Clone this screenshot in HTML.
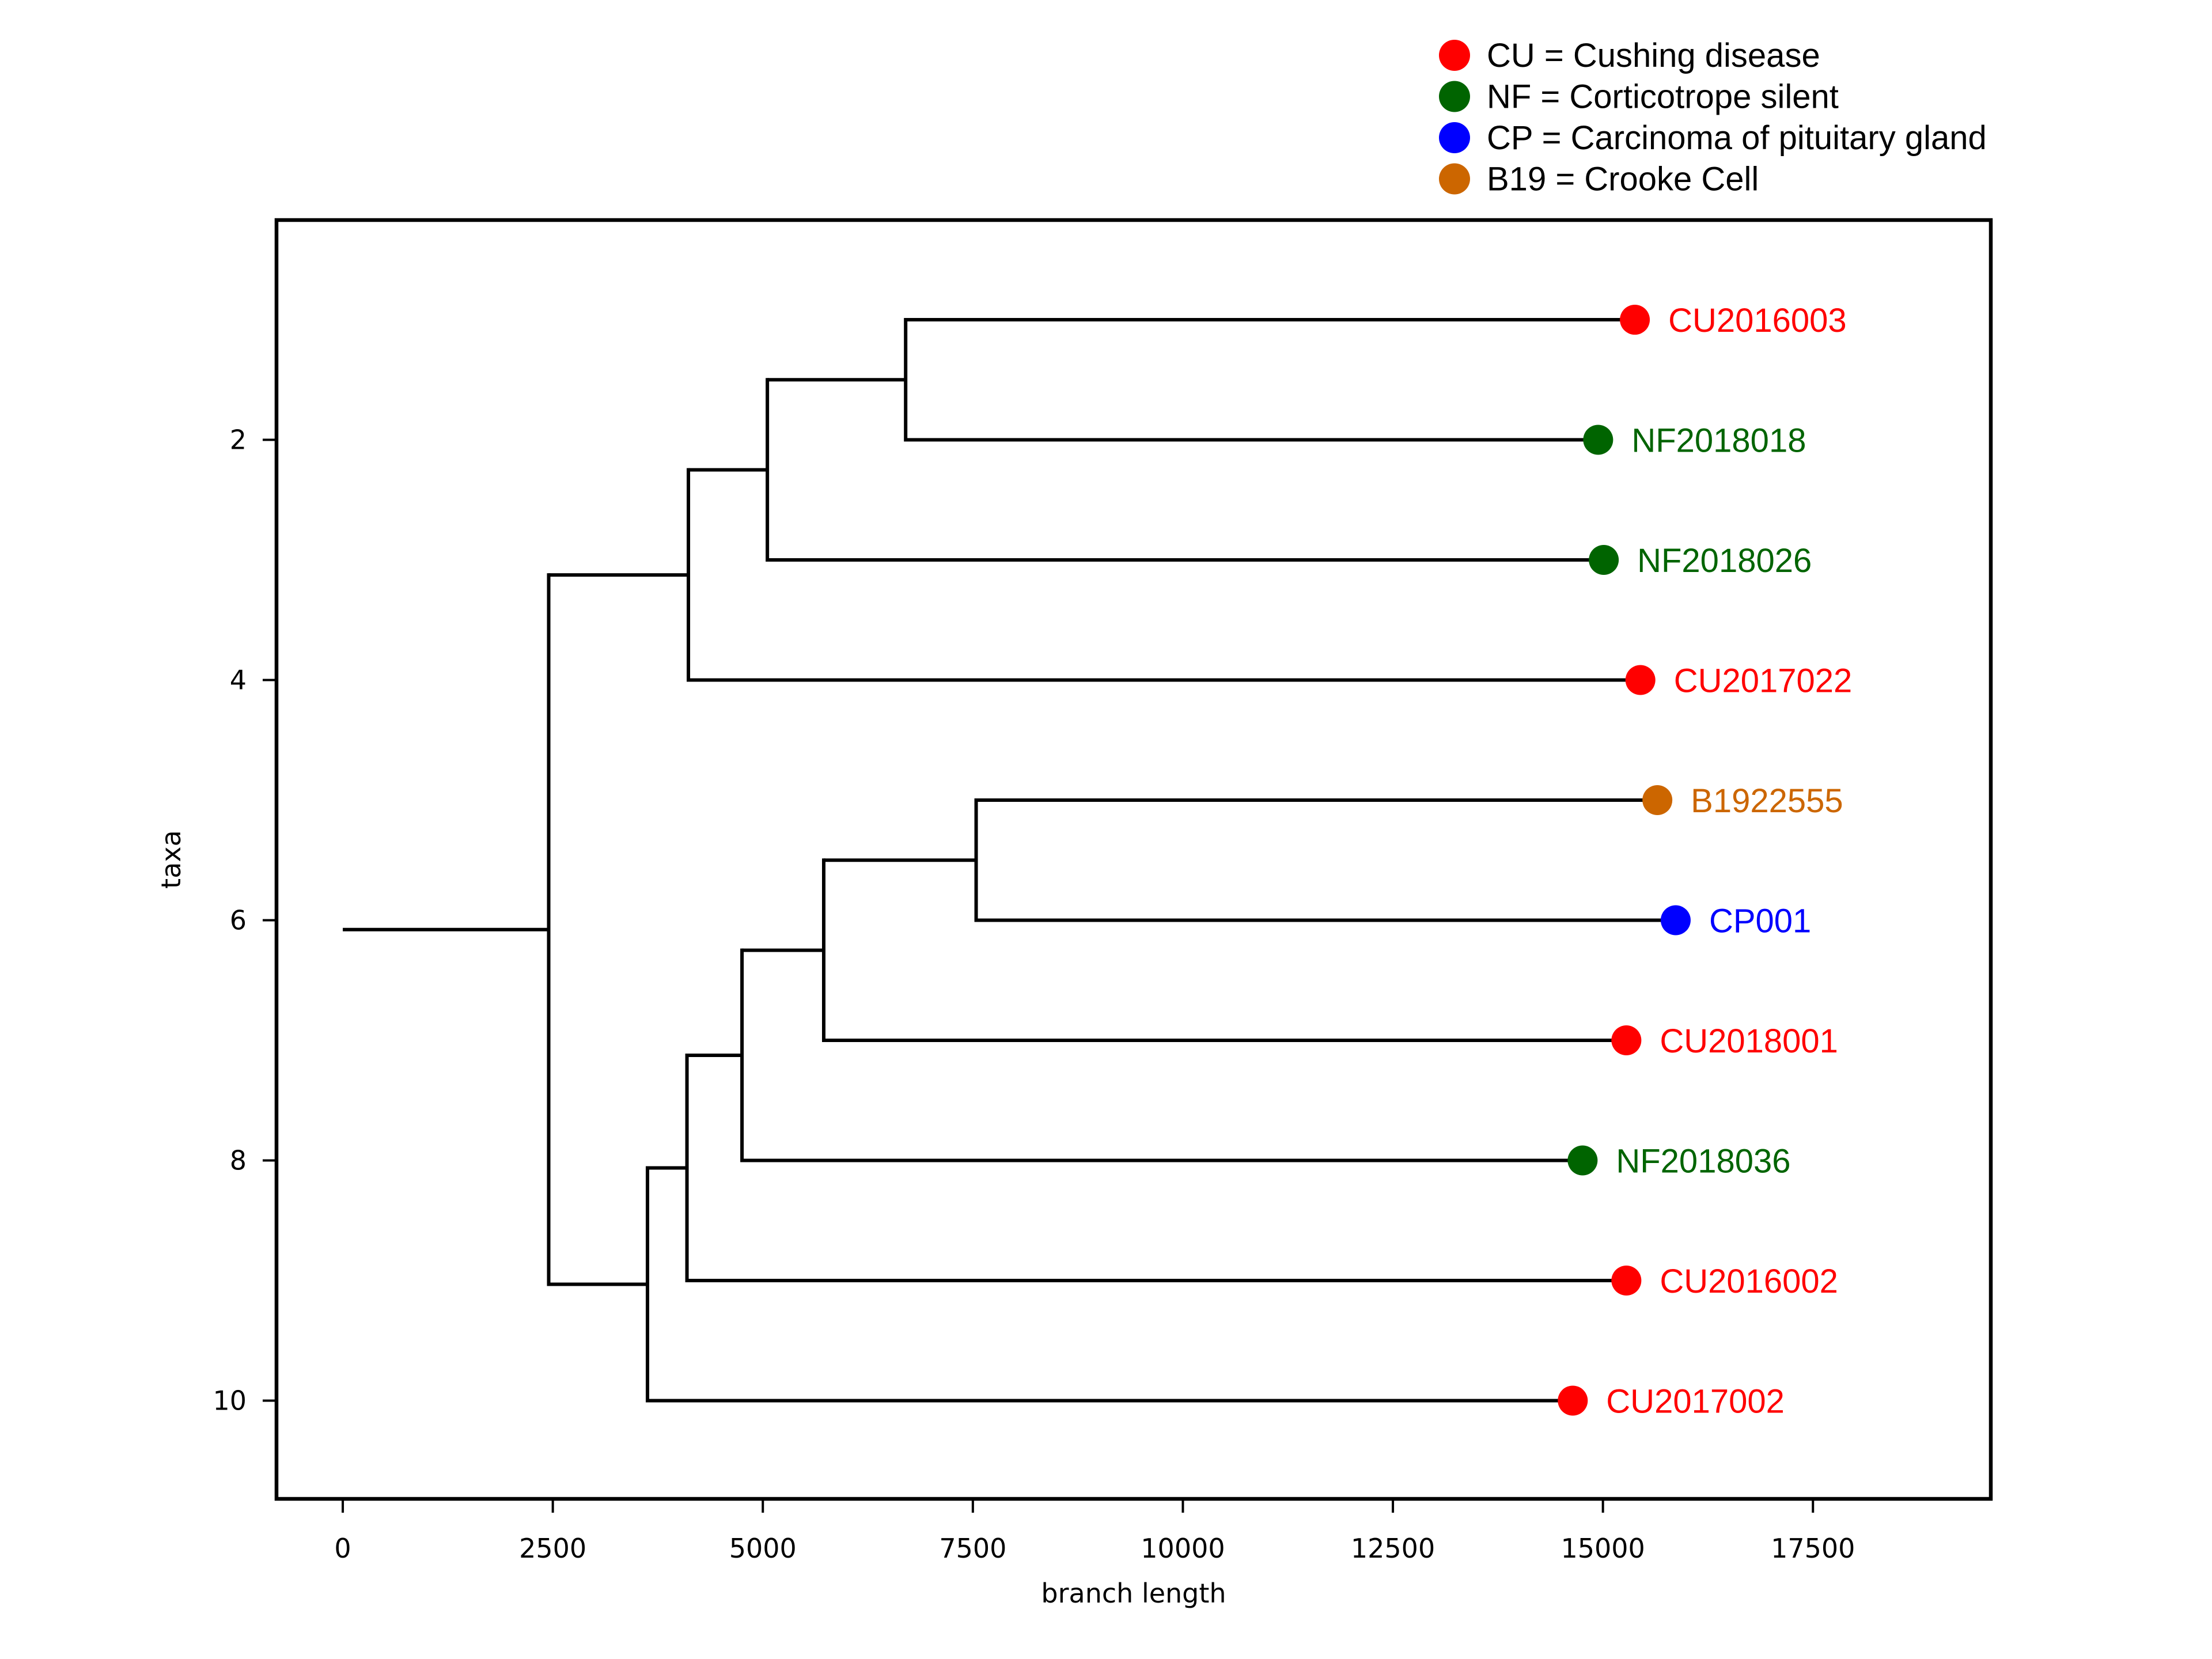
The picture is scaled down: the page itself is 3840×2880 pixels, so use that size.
<!DOCTYPE html>
<html><head><meta charset="utf-8"><style>
html,body{margin:0;padding:0;background:#fff;}
svg{display:block;}
</style></head><body>
<svg id="chart" width="3840" height="2880" viewBox="0 0 3840 2880" xmlns="http://www.w3.org/2000/svg">
<rect width="3840" height="2880" fill="#fff"/>
<g id="legend"></g>
<g id="tree"></g>
<g id="leaves"></g>
<g id="axes"></g>
</svg>
<script>
const leafNames = ["CU2016003","NF2018018","NF2018026","CU2017022","B1922555","CP001","CU2018001","NF2018036","CU2016002","CU2017002"];
const leafX = [15380,14943,15010,15446,15648,15866,15279,14758,15279,14641];
const leafGroup = ["CU","NF","NF","CU","B19","CP","CU","NF","CU","CU"];
const nodeNames = ["A","B","C","F","G","H","I","E","R"];
const nodeX = [6700,5054,4114,7539,5725,4752,4097,3627,2451];
const nodeKids = [[0,1],["A",2],["B",3],[4,5],["F",6],["G",7],["H",8],["I",9],["C","E"]];
const rootX = 0;
const xTicks = [0,2500,5000,7500,10000,12500,15000,17500];
const yTicks = [2,4,6,8,10];
const legendKeys = ["CU","NF","CP","B19"];
const legendLabels = ["CU = Cushing disease","NF = Corticotrope silent","CP = Carcinoma of pituitary gland","B19 = Crooke Cell"];
const groupColors = {CU:"#ff0000",NF:"#006400",CP:"#0000ff",B19:"#cc6600"};

const L=480,R=3456,T=382,B=2602;
const xmin=-789,xmax=19617,ymin=0.170,ymax=10.818;
const sx=v=>L+(v-xmin)/(xmax-xmin)*(R-L);
const sy=v=>T+(v-ymin)/(ymax-ymin)*(B-T);
const NS="http://www.w3.org/2000/svg";
function mk(tag,attrs,parent){const e=document.createElementNS(NS,tag);for(const k in attrs)e.setAttribute(k,attrs[k]);parent.appendChild(e);return e;}

const tree=document.getElementById('tree'),leaves=document.getElementById('leaves'),axes=document.getElementById('axes'),legend=document.getElementById('legend');
const nodeY={};
function yOf(c){return typeof c==="number"?c+1:nodeY[c];}
function xOf(c){return typeof c==="number"?leafX[c]:nodeX[nodeNames.indexOf(c)];}
nodeNames.forEach((n,i)=>{
  const [a,b]=nodeKids[i];
  const ya=yOf(a),yb=yOf(b);
  nodeY[n]=(ya+yb)/2;
  const v=mk('line',{x1:sx(nodeX[i]),x2:sx(nodeX[i]),y1:sy(ya),y2:sy(yb),stroke:'#000','stroke-width':6,'stroke-linecap':'square'},tree);
  
  
  [a,b].forEach(c=>{
    const h=mk('line',{x1:sx(nodeX[i]),x2:sx(xOf(c)),y1:sy(yOf(c)),y2:sy(yOf(c)),stroke:'#000','stroke-width':6},tree);
    
    
  });
});
const rootLine=mk('line',{x1:sx(rootX),x2:sx(nodeX[nodeNames.indexOf("R")]),y1:sy(nodeY["R"]),y2:sy(nodeY["R"]),stroke:'#000','stroke-width':6},tree);



leafNames.forEach((n,i)=>{
  const col=groupColors[leafGroup[i]];
  const c=mk('circle',{cx:sx(leafX[i]),cy:sy(i+1),r:26,fill:col},leaves);
  
  
  const t=mk('text',{x:sx(leafX[i])+58,y:sy(i+1)+21,fill:col,'font-family':'Liberation Sans, Arial, sans-serif','font-size':58},leaves);
  t.textContent=n;
  
  
});

const frame=mk('rect',{x:L,y:T,width:R-L,height:B-T,fill:'none',stroke:'#000','stroke-width':6.5},axes);


xTicks.forEach(v=>{
  const tk=mk('line',{x1:sx(v),x2:sx(v),y1:B,y2:B+24,stroke:'#000','stroke-width':4},axes);
  
  
  const t=mk('text',{x:sx(v),y:2704,'text-anchor':'middle','font-family':'DejaVu Sans, sans-serif','font-size':46},axes);
  t.textContent=v;
  
  
});
yTicks.forEach(v=>{
  const tk=mk('line',{x1:L-24,x2:L,y1:sy(v),y2:sy(v),stroke:'#000','stroke-width':4},axes);
  
  
  const t=mk('text',{x:L-52,y:sy(v)+16,'text-anchor':'end','font-family':'DejaVu Sans, sans-serif','font-size':46},axes);
  t.textContent=v;
  
  
});
const xl=mk('text',{x:(L+R)/2,y:2782,'text-anchor':'middle','font-family':'DejaVu Sans, sans-serif','font-size':46},axes);
xl.textContent='branch length';


const yl=mk('text',{x:0,y:0,'text-anchor':'middle','font-family':'DejaVu Sans, sans-serif','font-size':46,transform:'translate(313,1492) rotate(-90)'},axes);
yl.textContent='taxa';



legendKeys.forEach((k,i)=>{
  const y=96+i*71.5;
  const c=mk('circle',{cx:2525,cy:y,r:27,fill:groupColors[k]},legend);
  
  
  const t=mk('text',{x:2581,y:y+20,'font-family':'Liberation Sans, Arial, sans-serif','font-size':58},legend);
  t.textContent=legendLabels[i];
  
  
});
</script>
</body></html>
